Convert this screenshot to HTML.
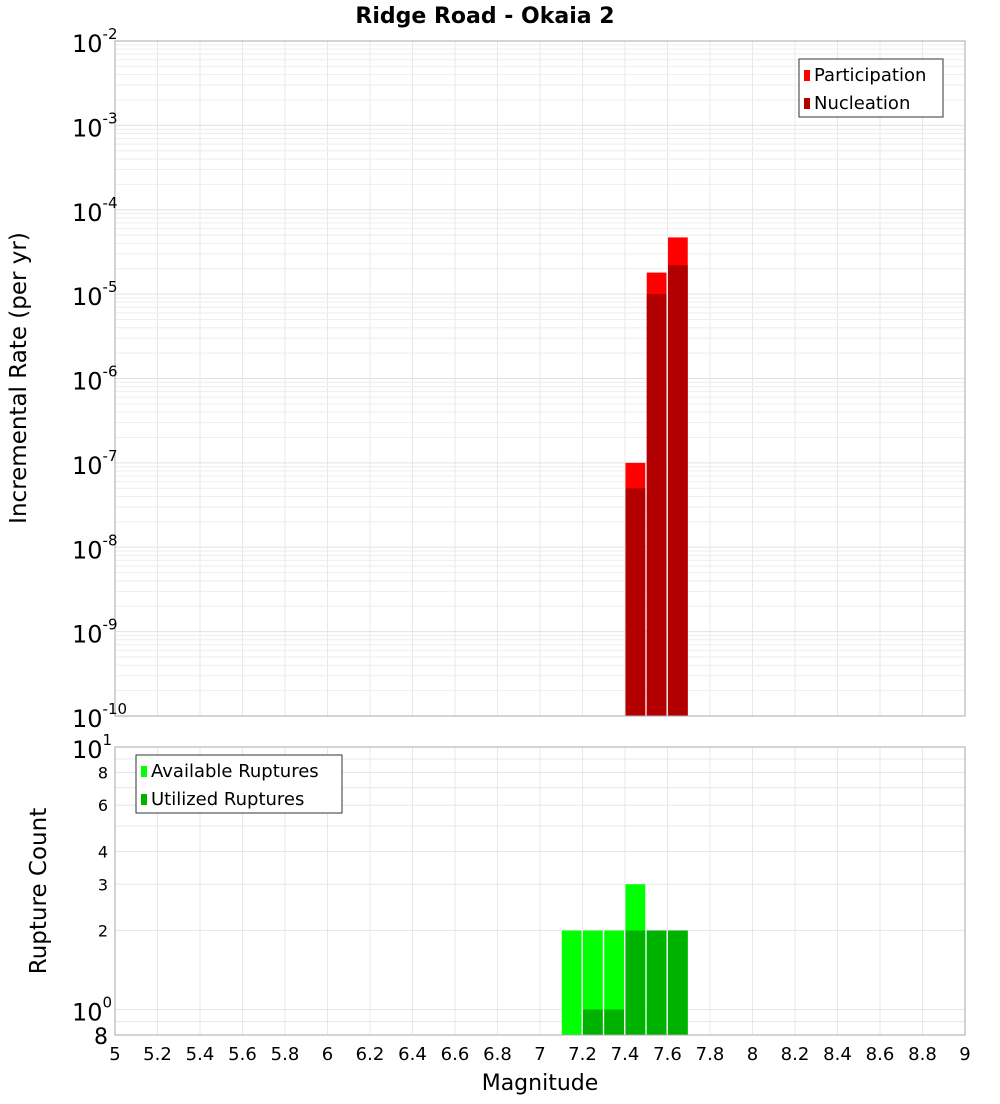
<!DOCTYPE html>
<html><head><meta charset="utf-8"><style>
body{margin:0;background:#fff;font-family:"DejaVu Sans","Liberation Sans",sans-serif}
svg text{font-family:"DejaVu Sans","Liberation Sans",sans-serif}
</style></head><body>
<svg id="c" width="1000" height="1100" xmlns="http://www.w3.org/2000/svg"></svg>
<script>
const binStarts=[7.1,7.2,7.3,7.4,7.5,7.6];
const participation=[0,0,0,1e-7,1.8e-5,4.7e-5];
const nucleation=[0,0,0,5e-8,1e-5,2.2e-5];
const available=[2,2,2,3,2,2];
const utilized=[0,1,1,2,2,2];
const xTicks=[5,5.2,5.4,5.6,5.8,6,6.2,6.4,6.6,6.8,7,7.2,7.4,7.6,7.8,8,8.2,8.4,8.6,8.8,9];
const topExps=[-2,-3,-4,-5,-6,-7,-8,-9,-10];
const botTickVals=[8,6,4,3,2];

const NS="http://www.w3.org/2000/svg";
const svg=document.getElementById('c');
function mk(t,a,p){const e=document.createElementNS(NS,t);for(const k in a)e.setAttribute(k,a[k]);(p||svg).appendChild(e);return e;}
const L=115,R=965,T1=41,B1=716,T2=747,B2=1035;
const X=v=>L+(v-5)/4*(R-L);
const Y1=v=>T1+(-2-Math.log10(v))*(B1-T1)/8;
const Y2=v=>T2+(1-Math.log10(v))*(B2-T2)/Math.log10(10/0.8);

// grids
for(const t of xTicks){
 const g=mk('line',{x1:X(t),x2:X(t),y1:T1,y2:B1,stroke:'#e8e8e8'});
 
 const g2=mk('line',{x1:X(t),x2:X(t),y1:T2,y2:B2,stroke:'#e8e8e8'});
 
}
for(let e=-10;e<-2;e++)for(let m=1;m<10;m++){
 const y=Y1(m*Math.pow(10,e));
 const g=mk('line',{x1:L,x2:R,y1:y,y2:y,stroke:m==1?'#e2e2e2':'#eeeeee'});
 
}
for(const v of [0.9,1,2,3,4,5,6,7,8,9]){
 const y=Y2(v);
 const g=mk('line',{x1:L,x2:R,y1:y,y2:y,stroke:'#e8e8e8'});
 
}
// bars
const bw=X(5.1)-X(5);
binStarts.forEach((s,i)=>{
 const x=X(s)+0.5,w=bw-1.5;
 if(participation[i]>0){const r=mk('rect',{x:x,y:Y1(participation[i]),width:w,height:B1-Y1(participation[i]),fill:'#ff0000'});
  }
 if(nucleation[i]>0){const r=mk('rect',{x:x,y:Y1(nucleation[i]),width:w,height:B1-Y1(nucleation[i]),fill:'#b20000'});
  }
 if(available[i]>0){const r=mk('rect',{x:x,y:Y2(available[i]),width:w,height:B2-Y2(available[i]),fill:'#00ff00'});
  }
 if(utilized[i]>0){const r=mk('rect',{x:x,y:Y2(utilized[i]),width:w,height:B2-Y2(utilized[i]),fill:'#00b200'});
  }
});
// frames
let f=mk('rect',{x:L,y:T1,width:R-L,height:B1-T1,fill:'none',stroke:'#aaa'});

f=mk('rect',{x:L,y:T2,width:R-L,height:B2-T2,fill:'none',stroke:'#aaa'});

// top y labels
for(const e of topExps){
 const t=mk('text',{x:72,y:Y1(Math.pow(10,e))+11,'font-size':24,fill:'#000'});
 
 t.innerHTML='10<tspan dy="-13" font-size="15">'+e+'</tspan>';
}
// bottom y labels
let t=mk('text',{x:72,y:Y2(10)+11,'font-size':24});t.innerHTML='10<tspan dy="-13" font-size="15">1</tspan>';

t=mk('text',{x:72,y:Y2(1)+11,'font-size':24});t.innerHTML='10<tspan dy="-13" font-size="15">0</tspan>';

for(const v of botTickVals){
 const tt=mk('text',{x:108,y:Y2(v)+6,'font-size':16,'text-anchor':'end'});tt.textContent=v;
 
}
t=mk('text',{x:108,y:B2+9,'font-size':22,'text-anchor':'end'});t.textContent='8';

// x labels
for(const v of xTicks){
 const tt=mk('text',{x:X(v),y:1060,'font-size':18,'text-anchor':'middle'});tt.textContent=v;
 
}
t=mk('text',{x:540,y:1090,'font-size':22,'text-anchor':'middle'});t.textContent='Magnitude';

t=mk('text',{x:485,y:23,'font-size':22,'font-weight':'bold','text-anchor':'middle'});t.textContent='Ridge Road - Okaia 2';

t=mk('text',{x:0,y:0,'font-size':23,'text-anchor':'middle',transform:'translate(26,378) rotate(-90)'});t.textContent='Incremental Rate (per yr)';

t=mk('text',{x:0,y:0,'font-size':23,'text-anchor':'middle',transform:'translate(46,891) rotate(-90)'});t.textContent='Rupture Count';

// legends
function legend(x,y,w,items,name){
 const g=mk('g',{});
 mk('rect',{x:x,y:y,width:w,height:58,fill:'#fff',stroke:'#333'},g);
 items.forEach((it,i)=>{
  mk('rect',{x:x+5,y:y+11+i*28,width:6,height:11,fill:it[1]},g);
  const tx=mk('text',{x:x+15,y:y+22+i*28,'font-size':18},g);tx.textContent=it[0];
 });
}
legend(799,59,144,[['Participation','#ff0000'],['Nucleation','#b20000']],'legend-top');
legend(136,755,206,[['Available Ruptures','#00ff00'],['Utilized Ruptures','#00b200']],'legend-bottom');
</script>
</body></html>
